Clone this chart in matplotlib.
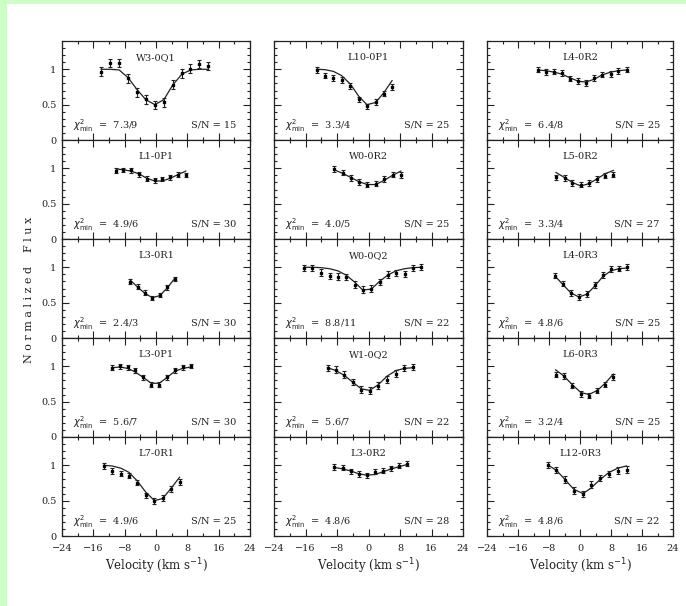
import matplotlib
matplotlib.use("Agg")
import matplotlib.pyplot as plt
from matplotlib.patches import Rectangle
from matplotlib.ticker import MultipleLocator, FixedLocator

# ---------------- data ----------------
names = [["W3-0Q1", "L1-0P1", "L3-0R1", "L3-0P1", "L7-0R1"],
         ["L10-0P1", "W0-0R2", "W0-0Q2", "W1-0Q2", "L3-0R2"],
         ["L4-0R2", "L5-0R2", "L4-0R3", "L6-0R3", "L12-0R3"]]
chi2 = [["7.3/9", "4.9/6", "2.4/3", "5.6/7", "4.9/6"],
        ["3.3/4", "4.0/5", "8.8/11", "5.6/7", "4.8/6"],
        ["6.4/8", "3.3/4", "4.8/6", "3.2/4", "4.8/6"]]
snr = [[15, 30, 30, 30, 25],
       [25, 25, 22, 22, 28],
       [25, 27, 25, 25, 22]]
errs = [[0.060, 0.033, 0.033, 0.033, 0.040],
        [0.040, 0.040, 0.045, 0.045, 0.036],
        [0.040, 0.037, 0.040, 0.040, 0.045]]

# column 1
v_W3_0Q1 = [-14.0, -11.7, -9.4, -7.1, -4.8, -2.6, -0.3, 2.0, 4.3, 6.6, 8.8, 11.1, 13.4]
f_W3_0Q1 = [0.967, 1.09, 1.09, 0.873, 0.675, 0.575, 0.495, 0.533, 0.783, 0.943, 1.01, 1.075, 1.05]
m_W3_0Q1 = [1.0, 1.0, 0.99, 0.88, 0.71, 0.57, 0.50, 0.57, 0.78, 0.93, 0.99, 1.0, 1.0]

v_L1_0P1 = [-10.2, -8.3, -6.4, -4.3, -2.4, -0.3, 1.6, 3.7, 5.6, 7.6]
f_L1_0P1 = [0.967, 0.976, 0.972, 0.915, 0.854, 0.830, 0.849, 0.873, 0.910, 0.905]
m_L1_0P1 = [0.99, 0.98, 0.96, 0.92, 0.86, 0.82, 0.82, 0.86, 0.91, 0.96]

v_L3_0R1 = [-6.6, -4.7, -2.8, -0.9, 1.0, 2.9, 4.9]
f_L3_0R1 = [0.797, 0.726, 0.642, 0.566, 0.608, 0.717, 0.835]
m_L3_0R1 = [0.82, 0.72, 0.63, 0.57, 0.60, 0.71, 0.85]

v_L3_0P1 = [-11.2, -9.3, -7.2, -5.3, -3.2, -1.2, 0.8, 2.8, 4.8, 6.8, 8.9]
f_L3_0P1 = [0.981, 1.0, 0.986, 0.943, 0.844, 0.741, 0.741, 0.844, 0.943, 0.986, 1.005]
m_L3_0P1 = [0.98, 0.99, 0.97, 0.92, 0.84, 0.76, 0.76, 0.84, 0.93, 0.97, 0.99]

v_L7_0R1 = [-13.4, -11.2, -9.0, -6.9, -4.8, -2.6, -0.4, 1.7, 3.8, 6.0]
f_L7_0R1 = [0.986, 0.915, 0.882, 0.854, 0.755, 0.575, 0.491, 0.533, 0.665, 0.759]
m_L7_0R1 = [1.0, 0.99, 0.96, 0.90, 0.78, 0.62, 0.50, 0.53, 0.67, 0.83]

# column 2
v_L10_0P1 = [-13.2, -11.1, -8.9, -6.8, -4.6, -2.5, -0.4, 1.8, 3.9, 6.0]
f_L10_0P1 = [0.986, 0.910, 0.873, 0.849, 0.759, 0.575, 0.476, 0.538, 0.656, 0.750]
m_L10_0P1 = [1.0, 0.995, 0.97, 0.91, 0.79, 0.62, 0.50, 0.53, 0.67, 0.84]

v_W0_0R2 = [-8.8, -6.6, -4.5, -2.4, -0.3, 1.8, 4.0, 6.1, 8.2]
f_W0_0R2 = [0.99, 0.939, 0.863, 0.802, 0.769, 0.783, 0.844, 0.910, 0.905]
m_W0_0R2 = [0.98, 0.93, 0.87, 0.81, 0.77, 0.77, 0.83, 0.90, 0.96]

v_W0_0Q2 = [-16.3, -14.3, -12.1, -9.9, -7.8, -5.7, -3.5, -1.5, 0.7, 2.8, 4.9, 7.0, 9.2, 11.3, 13.4]
f_W0_0Q2 = [0.991, 0.991, 0.925, 0.873, 0.868, 0.863, 0.755, 0.684, 0.698, 0.788, 0.896, 0.920, 0.906, 0.991, 1.005]
m_W0_0Q2 = [1.0, 1.0, 0.995, 0.98, 0.95, 0.89, 0.79, 0.68, 0.69, 0.80, 0.89, 0.95, 0.98, 0.995, 1.0]

v_W1_0Q2 = [-10.4, -8.3, -6.1, -3.9, -1.8, 0.3, 2.5, 4.7, 7.0, 9.1, 11.2]
f_W1_0Q2 = [0.976, 0.953, 0.882, 0.774, 0.670, 0.656, 0.726, 0.811, 0.896, 0.976, 0.986]
m_W1_0Q2 = [0.98, 0.94, 0.87, 0.77, 0.68, 0.66, 0.74, 0.86, 0.94, 0.97, 0.98]

v_L3_0R2 = [-8.8, -6.6, -4.5, -2.5, -0.4, 1.7, 3.8, 5.8, 7.8, 9.7]
f_L3_0R2 = [0.976, 0.967, 0.915, 0.877, 0.858, 0.906, 0.920, 0.958, 0.995, 1.024]
m_L3_0R2 = [0.97, 0.95, 0.92, 0.88, 0.86, 0.87, 0.91, 0.95, 0.98, 1.01]

# column 3
v_L4_0R2 = [-10.9, -8.8, -6.7, -4.6, -2.6, -0.4, 1.6, 3.7, 5.7, 7.9, 9.9, 12.0]
f_L4_0R2 = [0.995, 0.958, 0.967, 0.948, 0.868, 0.830, 0.807, 0.877, 0.925, 0.934, 0.972, 0.995]
m_L4_0R2 = [0.99, 0.98, 0.96, 0.93, 0.88, 0.83, 0.82, 0.86, 0.92, 0.96, 0.98, 0.99]

v_L5_0R2 = [-6.2, -4.0, -2.0, 0.2, 2.2, 4.4, 6.4, 8.6]
f_L5_0R2 = [0.873, 0.863, 0.792, 0.769, 0.792, 0.849, 0.896, 0.910]
m_L5_0R2 = [0.94, 0.87, 0.80, 0.75, 0.78, 0.85, 0.92, 0.97]

v_L4_0R3 = [-6.5, -4.5, -2.4, -0.3, 1.8, 3.9, 5.9, 8.0, 10.0, 12.2]
f_L4_0R3 = [0.882, 0.769, 0.632, 0.580, 0.623, 0.745, 0.887, 0.972, 0.981, 1.0]
m_L4_0R3 = [0.88, 0.76, 0.64, 0.58, 0.62, 0.74, 0.87, 0.95, 0.98, 0.99]

v_L6_0R3 = [-6.3, -4.1, -2.0, 0.2, 2.3, 4.5, 6.5, 8.6]
f_L6_0R3 = [0.882, 0.858, 0.726, 0.608, 0.585, 0.656, 0.741, 0.844]
m_L6_0R3 = [0.95, 0.86, 0.74, 0.63, 0.60, 0.66, 0.76, 0.89]

v_L12_0R3 = [-8.2, -6.1, -3.9, -1.6, 0.8, 2.9, 5.2, 7.5, 9.8, 12.0]
f_L12_0R3 = [1.0, 0.929, 0.797, 0.642, 0.594, 0.726, 0.821, 0.877, 0.925, 0.939]
m_L12_0R3 = [1.0, 0.93, 0.80, 0.66, 0.60, 0.68, 0.80, 0.90, 0.96, 0.99]

vel = [[v_W3_0Q1, v_L1_0P1, v_L3_0R1, v_L3_0P1, v_L7_0R1],
       [v_L10_0P1, v_W0_0R2, v_W0_0Q2, v_W1_0Q2, v_L3_0R2],
       [v_L4_0R2, v_L5_0R2, v_L4_0R3, v_L6_0R3, v_L12_0R3]]
flux = [[f_W3_0Q1, f_L1_0P1, f_L3_0R1, f_L3_0P1, f_L7_0R1],
        [f_L10_0P1, f_W0_0R2, f_W0_0Q2, f_W1_0Q2, f_L3_0R2],
        [f_L4_0R2, f_L5_0R2, f_L4_0R3, f_L6_0R3, f_L12_0R3]]
model = [[m_W3_0Q1, m_L1_0P1, m_L3_0R1, m_L3_0P1, m_L7_0R1],
         [m_L10_0P1, m_W0_0R2, m_W0_0Q2, m_W1_0Q2, m_L3_0R2],
         [m_L4_0R2, m_L5_0R2, m_L4_0R3, m_L6_0R3, m_L12_0R3]]

xticks = [-24, -16, -8, 0, 8, 16, 24]
xticklabels = ["\u221224", "\u221216", "\u22128", "0", "8", "16", "24"]
yticks = [0, 0.5, 1]
yticklabels = ["0", "0.5", "1"]

# ---------------- figure ----------------
W, H = 686, 606
fig = plt.figure(figsize=(W / 100, H / 100), dpi=100)
fig.patch.set_facecolor("white")
green = "#ccffc4"
fig.add_artist(Rectangle((0, 0), 7 / W, 1, transform=fig.transFigure,
                         facecolor=green, edgecolor="none", zorder=-10))
fig.add_artist(Rectangle((0, 1 - 4 / H), 1, 4 / H, transform=fig.transFigure,
                         facecolor=green, edgecolor="none", zorder=-10))

FONT = "DejaVu Serif"
col_left = [62, 274, 487]
col_width = [188, 189, 186]
top0, rowh = 41, 99
ink = "#222222"

for c in range(3):
    for r in range(5):
        top = top0 + r * rowh
        ax = fig.add_axes([col_left[c] / W, 1 - (top + rowh) / H,
                           col_width[c] / W, rowh / H])
        ax.set_xlim(-24, 24)
        ax.set_ylim(0, 1.4)
        for s in ax.spines.values():
            s.set_linewidth(0.9)
            s.set_color(ink)
        ax.xaxis.set_major_locator(FixedLocator(xticks))
        ax.xaxis.set_minor_locator(MultipleLocator(4))
        ax.yaxis.set_major_locator(FixedLocator(yticks))
        ax.yaxis.set_minor_locator(MultipleLocator(0.1))
        ax.tick_params(which="both", direction="in", top=True, right=True,
                       color=ink, width=0.8)
        ax.tick_params(which="major", length=5)
        ax.tick_params(which="minor", length=2.5)
        if r == 4:
            ax.set_xticklabels(xticklabels, fontsize=7, family=FONT, color=ink)
            ax.tick_params(axis="x", pad=6)
        else:
            ax.set_xticklabels([])
        if c == 0:
            ax.set_yticklabels(yticklabels, fontsize=7, family=FONT, color=ink)
            ax.tick_params(axis="y", pad=4)
        else:
            ax.set_yticklabels([])

        v = vel[c][r]
        ax.plot(v, model[c][r], color=ink, lw=0.9, zorder=2)
        ax.errorbar(v, flux[c][r], yerr=errs[c][r], fmt="s", ms=1.6,
                    color="black", ecolor=ink, elinewidth=0.8, capsize=1.6,
                    capthick=0.8, zorder=3)

        ax.text(0, 1.16, names[c][r], ha="center", va="center", fontsize=7,
                family=FONT, color=ink)
        ax.text(-21.2, 0.21, r"$\chi^2_{\rm min}$  =  " + chi2[c][r], ha="left",
                va="center", fontsize=7, family=FONT, color=ink)
        ax.text(20.6, 0.21, "S/N = %d" % snr[c][r], ha="right", va="center",
                fontsize=7, family=FONT, color=ink)

    cx = (col_left[c] + col_width[c] / 2) / W
    fig.text(cx, 1 - 566 / H, r"Velocity (km s$^{-1}$)", ha="center",
             va="center", fontsize=8.5, family=FONT, color=ink)

fig.text(29 / W, 1 - 290 / H, "N o r m a l i z e d    F l u x", rotation=90,
         ha="center", va="center", fontsize=8, family=FONT, color=ink)

fig.savefig("out.png", dpi=100, facecolor=fig.get_facecolor())
